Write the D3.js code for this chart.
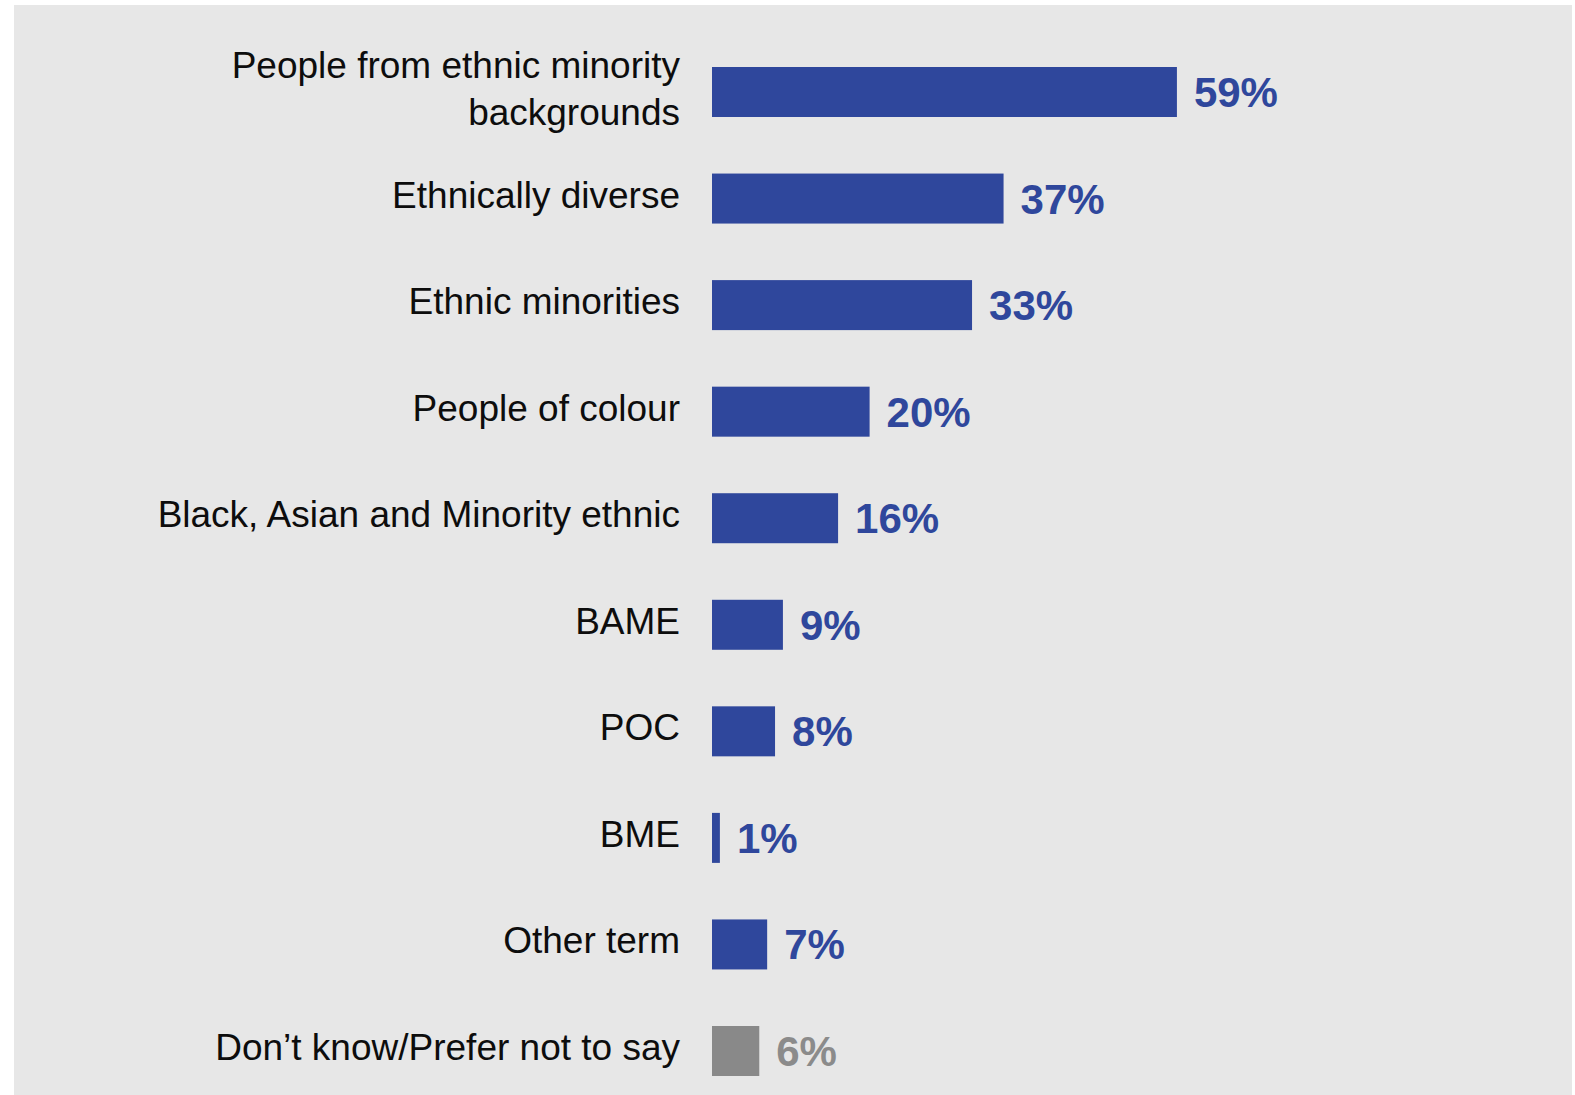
<!DOCTYPE html>
<html>
<head>
<meta charset="utf-8">
<script src="https://cdn.jsdelivr.net/npm/d3@7"></script>
<style>
  html, body { margin: 0; padding: 0; background: #ffffff; }
  svg { display: block; }
</style>
</head>
<body>
<svg id="chart" width="1575" height="1095"></svg>
<script>
const categories = [
  ["People from ethnic minority", "backgrounds"],
  ["Ethnically diverse"],
  ["Ethnic minorities"],
  ["People of colour"],
  ["Black, Asian and Minority ethnic"],
  ["BAME"],
  ["POC"],
  ["BME"],
  ["Other term"],
  ["Don\u2019t know/Prefer not to say"]
];
const values = [59, 37, 33, 20, 16, 9, 8, 1, 7, 6];
const valueLabels = ["59%", "37%", "33%", "20%", "16%", "9%", "8%", "1%", "7%", "6%"];
const isNeutral = [false, false, false, false, false, false, false, false, false, true];

const BLUE = "#2f479c";
const GREY = "#898989";

const svg = d3.select("#chart");

svg.append("rect")
  .attr("x", 14).attr("y", 5)
  .attr("width", 1558).attr("height", 1090)
  .attr("fill", "#e7e7e7");

const keys = categories.map((c, i) => String(i));
const y = d3.scalePoint().domain(keys).range([92, 1051]);
const x = d3.scaleLinear().domain([0, 100]).range([712, 1500]);
const barH = 50;

const rows = svg.append("g").selectAll("g")
  .data(values.map((v, i) => ({v, i})))
  .join("g");

rows.append("rect")
  .attr("x", x(0))
  .attr("y", d => y(String(d.i)) - barH / 2)
  .attr("width", d => x(d.v) - x(0))
  .attr("height", barH)
  .attr("fill", d => isNeutral[d.i] ? GREY : BLUE);

rows.append("text")
  .attr("x", d => x(d.v) + 17)
  .attr("y", d => y(String(d.i)) + 15)
  .attr("font-family", "'Liberation Sans', Arial, sans-serif")
  .attr("font-weight", "bold")
  .attr("font-size", 42)
  .attr("fill", d => isNeutral[d.i] ? "#8b8b8b" : BLUE)
  .text(d => valueLabels[d.i]);

const labels = rows.append("text")
  .attr("x", 680)
  .attr("text-anchor", "end")
  .attr("font-family", "'Liberation Sans', Arial, sans-serif")
  .attr("font-size", 37)
  .attr("fill", "#0d0d0d")
  .attr("y", d => {
    const lines = categories[d.i];
    return lines.length === 1 ? y(String(d.i)) + 9 : y(String(d.i)) - 14;
  });

labels.each(function(d) {
  const lines = categories[d.i];
  const t = d3.select(this);
  lines.forEach((ln, k) => {
    t.append("tspan")
      .attr("x", 680)
      .attr("dy", k === 0 ? 0 : 47)
      .text(ln);
  });
});
</script>
</body>
</html>
